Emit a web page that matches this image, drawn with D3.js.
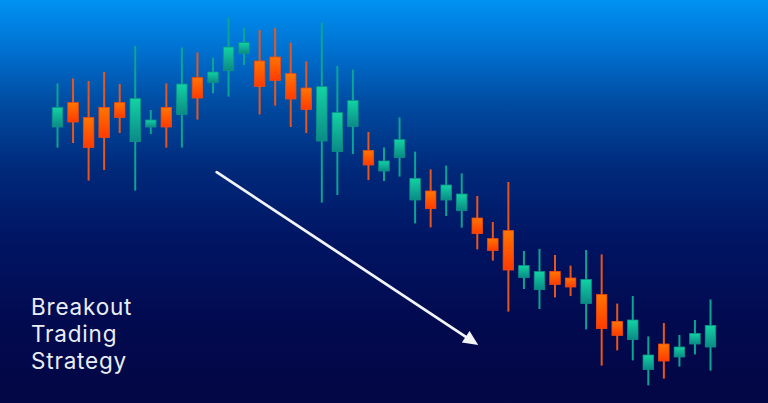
<!DOCTYPE html>
<html>
<head>
<meta charset="utf-8">
<script src="https://cdn.jsdelivr.net/npm/d3@7"></script>
<style>
html,body{margin:0;padding:0;background:#020540;overflow:hidden;}
svg{display:block;}
</style>
</head>
<body>
<svg id="chart" width="768" height="403"></svg>
<script>
// Candle data (arbitrary price units)
const opens  = [136.5,148.7,141.3,146.3,148.7,129.2,136.5,146.3,142.8,161.2,158.8,164.7,173.3,169.5,171.5,163.2,156,129.5,124.3,136.8,124.8,114.5,121.3,100,104.5,100,94.8,91,80.7,84.7,61.3,55.2,64.3,61,48.3,52.7,39.3,30.3,15.3,28,21.5,28,26.5];
const highs  = [158.3,160.8,159.5,164,158,177,145,158.3,176.3,173.8,171.2,191.2,186.2,185,186,178.7,169.3,188.8,167,165.2,134,126.2,141.3,124.2,115.3,117.2,113.3,102,89,109,74.5,75.5,72.5,67.2,75,72.8,48.2,52,31.8,38.5,32.5,40,50.3];
const lows   = [126.2,128.5,109.7,115,133.5,104.7,133,126.2,126.2,140.2,153.3,151.7,167.5,142.8,147.2,136.5,133.5,98.7,102.5,123,110,109.5,111.7,88.3,86.3,92,86.2,75.3,69.7,44.2,55.5,45.5,51.3,52,35.3,17.2,24.8,19.8,7.3,10.7,16.7,22.8,14.7];
const closes = [146.3,139,126.3,131.3,141.3,150.8,140,136.5,158,151,164,176.5,178.8,156.8,159.8,150.5,145.3,156.7,143.7,149.7,117.5,119.5,130.2,110.8,95.7,107.5,103,83.2,74.8,65,67.2,64.2,57.8,56.5,60.3,35.7,32.3,40,22.5,19.5,26.5,33.3,37.3];
// Trend arrow in data units: [candle index, price]
const arrowFrom = [10.24, 113.9];
const arrowTo   = [27.06, 27.5];
const titleLines = ["Breakout", "Trading", "Strategy"];

const W = 768, H = 403;
const svg = d3.select("#chart");
const defs = svg.append("defs");

// background gradient
const bg = defs.append("linearGradient").attr("id","bg").attr("x1",0).attr("y1",0).attr("x2",0).attr("y2",1);
[[0,"#0092f2"],[0.12,"#0072d2"],[0.25,"#004da3"],[0.42,"#00297a"],[0.6,"#001462"],[0.8,"#020a4f"],[1,"#030644"]]
  .forEach(([o,c])=>bg.append("stop").attr("offset",o).attr("stop-color",c));
svg.append("rect").attr("width",W).attr("height",H).attr("fill","url(#bg)");

const gUp = defs.append("linearGradient").attr("id","gUp").attr("x1",0).attr("y1",0).attr("x2",0).attr("y2",1);
gUp.append("stop").attr("offset",0).attr("stop-color","#12d3a3");
gUp.append("stop").attr("offset",1).attr("stop-color","#0b8a86");
const gDn = defs.append("linearGradient").attr("id","gDn").attr("x1",0).attr("y1",0).attr("x2",0).attr("y2",1);
gDn.append("stop").attr("offset",0).attr("stop-color","#ff7600");
gDn.append("stop").attr("offset",1).attr("stop-color","#ff3a00");

const data = opens.map((o,i)=>({i, o, h:highs[i], l:lows[i], c:closes[i]}));
const x = d3.scaleLinear().domain([0, data.length-1]).range([57.5, 710.5]);
const y = d3.scaleLinear().domain([0, 200]).range([400, 0]);
const bw = 10.5;

const g = svg.append("g");
const candle = g.selectAll("g.c").data(data).join("g").attr("class","c");
candle.append("line")
  .attr("x1", d=>x(d.i)).attr("x2", d=>x(d.i))
  .attr("y1", d=>y(d.h)).attr("y2", d=>y(d.l))
  .attr("stroke", d=>d.c>=d.o ? "#0aa593" : "#e9561c")
  .attr("stroke-width", 2);
candle.append("rect")
  .attr("x", d=>x(d.i)-bw/2).attr("width", bw)
  .attr("y", d=>y(Math.max(d.o,d.c)))
  .attr("height", d=>Math.abs(y(d.o)-y(d.c)))
  .attr("fill", d=>d.c>=d.o ? "url(#gUp)" : "url(#gDn)")
  .attr("stroke", d=>d.c>=d.o ? "#0b9488" : "#f04a10")
  .attr("stroke-width", 0.8);

// arrow
const ax1 = x(arrowFrom[0]), ay1 = y(arrowFrom[1]);
const ax2 = x(arrowTo[0]), ay2 = y(arrowTo[1]);
const ang = Math.atan2(ay2-ay1, ax2-ax1);
const hl = 15, hw = 7;
const bx = ax2 - hl*Math.cos(ang), by = ay2 - hl*Math.sin(ang);
svg.append("line").attr("x1",ax1).attr("y1",ay1).attr("x2",bx+2*Math.cos(ang)).attr("y2",by+2*Math.sin(ang))
  .attr("stroke","#f2f4f8").attr("stroke-width",2.8).attr("stroke-linecap","round");
svg.append("path")
  .attr("d", d3.line()([
    [ax2, ay2],
    [bx + hw*Math.sin(ang), by - hw*Math.cos(ang)],
    [bx - hw*Math.sin(ang), by + hw*Math.cos(ang)]
  ]) + "Z")
  .attr("fill","#f2f4f8");

// title text
svg.append("g").selectAll("text").data(titleLines).join("text")
  .attr("x", 31)
  .attr("y", (d,i)=>315 + i*27.2)
  .attr("fill","#e9eef6")
  .attr("font-family","Inter, 'Open Sans', sans-serif")
  .attr("font-size", 22.5)
  .attr("font-weight", 400)
  .attr("letter-spacing", 0.8)
  .text(d=>d);
</script>
</body>
</html>
